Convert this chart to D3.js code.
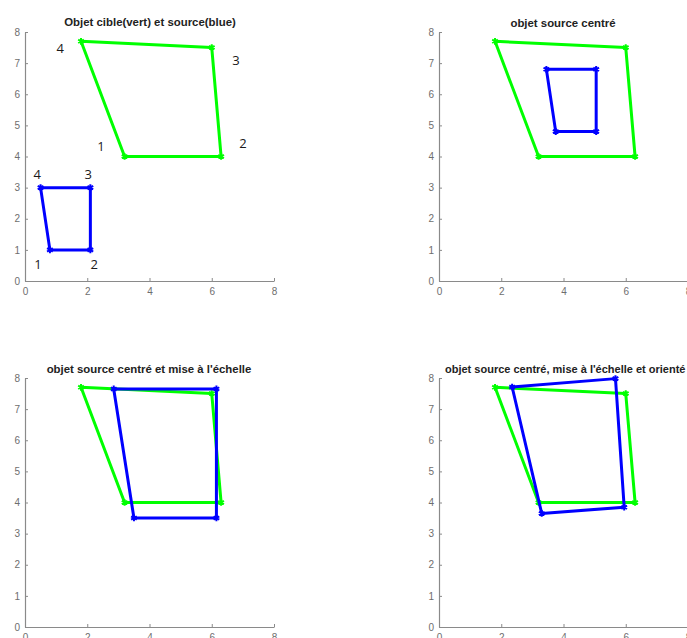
<!DOCTYPE html>
<html><head><meta charset="utf-8">
<script src="https://cdn.jsdelivr.net/npm/d3@7"></script>
<style>body{margin:0;background:#fff}</style>
</head><body>
<script>
// Target (green) polygon vertices 1..4
const targetX = [3.2, 6.3, 6.0, 1.8];
const targetY = [4.0, 4.0, 7.5, 7.7];
// Source (blue) original
const sourceX = [0.8, 2.1, 2.1, 0.5];
const sourceY = [1.0, 1.0, 3.0, 3.0];
// Source centred
const centredX = [3.75, 5.05, 5.05, 3.45];
const centredY = [4.8, 4.8, 6.8, 6.8];
// Source centred and scaled
const scaledX = [3.5, 6.15, 6.15, 2.85];
const scaledY = [3.5, 3.5, 7.65, 7.65];
// Source centred, scaled and rotated
const rotatedX = [3.3, 5.95, 5.67, 2.35];
const rotatedY = [3.65, 3.85, 7.98, 7.71];
// Vertex number labels in panel 1 (data coords)
const labelText = ["1", "2", "3", "4", "1", "2", "3", "4"];
const labelX = [2.44, 7.0, 6.78, 1.13, 0.42, 2.22, 2.03, 0.39];
const labelY = [4.34, 4.44, 7.1, 7.49, 0.55, 0.55, 3.44, 3.44];
const titles = [
  "Objet cible(vert) et source(blue)",
  "objet source centré",
  "objet source centré et mise à l'échelle",
  "objet source centré, mise à l'échelle et orienté"
];
const ticks = [0, 1, 2, 3, 4, 5, 6, 7, 8];
const xTicks = [0, 2, 4, 6, 8];

const W = 687, H = 638;
const svg = d3.select("body").append("svg").attr("width", W).attr("height", H);

const panels = [
  {x0: 25, y0: 281, title: titles[0], tx: 150, ty: 22, anchor: "middle", fs: 11.4, blue: [sourceX, sourceY], labels: true},
  {x0: 439, y0: 281, title: titles[1], tx: 563, ty: 23, anchor: "middle", fs: 11.4, blue: [centredX, centredY]},
  {x0: 25, y0: 627, title: titles[2], tx: 149, ty: 369, anchor: "middle", fs: 11.4, blue: [scaledX, scaledY]},
  {x0: 439, y0: 627, title: titles[3], tx: 445, ty: 369, anchor: "start", fs: 11, blue: [rotatedX, rotatedY]}
];
const size = 249;
const green = "#00ff00", blue = "#0000ff", axisCol = "#8a8a8a";

panels.forEach(p => {
  const g = svg.append("g");
  const x = d3.scaleLinear().domain([0, 8]).range([p.x0, p.x0 + size]);
  const y = d3.scaleLinear().domain([0, 8]).range([p.y0, p.y0 - size]);

  const xa = g.append("g").attr("transform", `translate(0,${p.y0})`)
    .call(d3.axisBottom(x).tickValues(xTicks).tickSizeInner(-3).tickSizeOuter(0).tickPadding(7));
  const ya = g.append("g").attr("transform", `translate(${p.x0},0)`)
    .call(d3.axisLeft(y).tickValues(ticks).tickSizeInner(-3).tickSizeOuter(0).tickPadding(5));
  [xa, ya].forEach(a => {
    a.select(".domain").attr("stroke", axisCol).attr("stroke-width", 1.2);
    a.selectAll(".tick line").attr("stroke", axisCol);
    a.selectAll(".tick text").attr("fill", "#6e6e6e").style("font-family", "Liberation Sans, Arial, sans-serif").style("font-size", "10px");
  });

  const line = d3.line().x(d => x(d[0])).y(d => y(d[1]));
  const draw = (xs, ys, col) => {
    const pts = xs.map((v, i) => [v, ys[i]]);
    g.append("path").attr("d", line([...pts, pts[0]])).attr("fill", "none")
      .attr("stroke", col).attr("stroke-width", 3).attr("stroke-linejoin", "round");
    g.selectAll(null).data(pts).enter().append("path")
      .attr("d", d3.symbol(d3.symbolAsterisk, 30)())
      .attr("transform", d => `translate(${x(d[0])},${y(d[1])})`)
      .attr("stroke", col).attr("stroke-width", 2).attr("fill", "none");
  };
  draw(targetX, targetY, green);
  draw(p.blue[0], p.blue[1], blue);

  g.append("text").attr("x", p.tx).attr("y", p.ty).attr("text-anchor", p.anchor)
    .attr("dominant-baseline", "central")
    .style("font-family", "Liberation Sans, Arial, sans-serif").style("font-weight", "bold")
    .style("font-size", p.fs + "px").attr("fill", "#222").text(p.title);

  if (p.labels) {
    g.selectAll(null).data(labelText).enter().append("text")
      .attr("x", (d, i) => x(labelX[i])).attr("y", (d, i) => y(labelY[i]))
      .attr("text-anchor", "middle").attr("dominant-baseline", "central")
      .style("font-family", "Open Sans, sans-serif").style("font-size", "13px")
      .attr("fill", "#1a1a1a").text(d => d);
  }
});
</script>
</body></html>
